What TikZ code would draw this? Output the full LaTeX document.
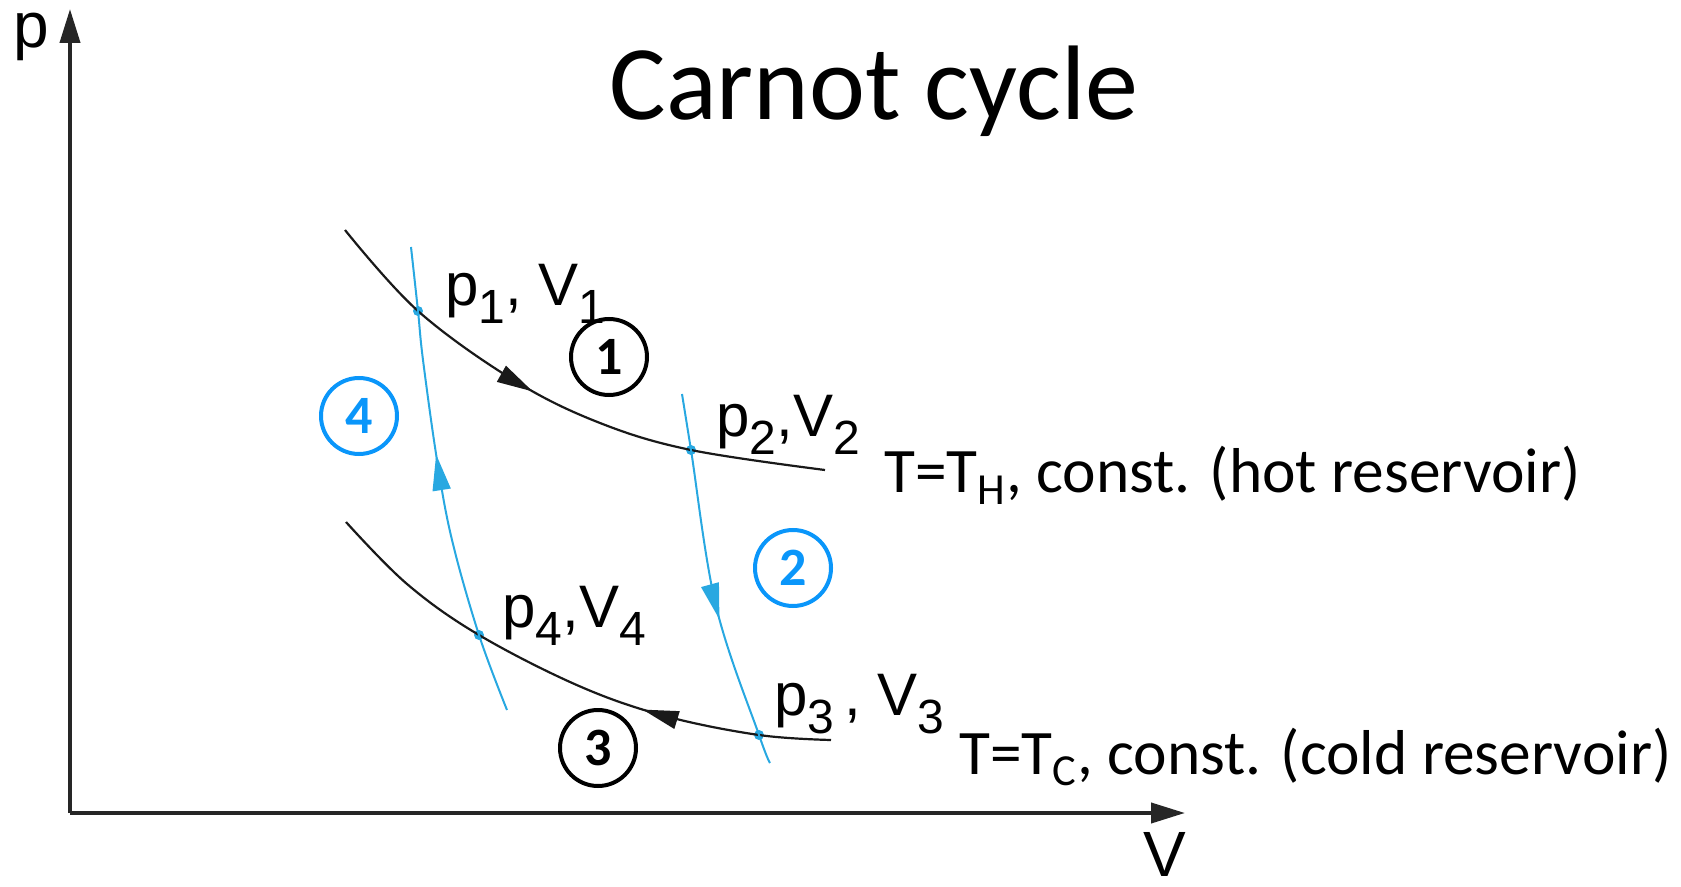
\documentclass[tikz,border=0pt]{standalone}
\usepackage{fontspec}
\setmainfont{Carlito}
\newfontfamily\helvfont{Liberation Sans}
\usepackage{xcolor}
\usepackage{graphicx}
\usetikzlibrary{positioning,arrows.meta,decorations.markings}

\definecolor{adiablue}{RGB}{40,168,225}
\definecolor{stepblue}{RGB}{10,150,250}
\newcommand{\lsub}[1]{\raisebox{-0.3em}{\scalebox{0.8}{#1}}}

\begin{document}
\begin{tikzpicture}[
    x=0.5pt, y=-0.5pt,
    axis/.style={draw=black!85, line width=2pt, -{Triangle[length=17pt,width=10pt]}},
    iso/.style={draw=black!90, line width=1.1pt},
    adia/.style={draw=adiablue, line width=1pt},
    flow/.style={postaction=decorate, decoration={markings,
      mark=at position #1 with {\arrow{Triangle[length=18pt,width=9pt]}}}},
    backflow/.style={postaction=decorate, decoration={markings,
      mark=at position #1 with {\arrowreversed{Triangle[length=18pt,width=9pt]}}}},
    dot/.style={circle, fill=adiablue, inner sep=0pt, minimum size=5pt},
    stepnum/.style={circle, draw, line width=2pt, minimum size=38pt, inner sep=0pt,
      font=\fontsize{27}{27}\selectfont\bfseries},
    pvlabel/.style={anchor=base west, inner sep=0pt, font=\helvfont\fontsize{30}{30}\selectfont},
    axislabel/.style={anchor=base west, inner sep=0pt, font=\helvfont\fontsize{32}{32}\selectfont},
    reservoir/.style={anchor=base west, inner sep=0pt, font=\fontsize{31.7}{32}\selectfont}
  ]
    \useasboundingbox (0,0) rectangle (1681,887);

    \coordinate (o) at (70,813);
    \coordinate (ytip) at (70,9);
    \coordinate (xtip) at (1185,813);
    \draw[axis] (o) -- (ytip);
    \draw[axis] (o) -- (xtip);
    \node[axislabel] (plabel) at (13,48) {p};
    \node[axislabel] (vlabel) at (1143,876) {V};

    \node[anchor=base, inner sep=0pt, font=\fontsize{53}{53}\selectfont] (title) at (874,120) {Carnot cycle};

    \node[dot] (s1) at (418,311) {};
    \node[dot] (s2) at (691,450) {};
    \node[dot] (s3) at (759,735) {};
    \node[dot] (s4) at (479,635) {};

    \draw[iso, flow=0.45] plot[smooth, tension=0.6] coordinates
      {(345,230) (s1) (515,381) (600,423) (s2) (825,470)};
    \draw[iso, backflow=0.65] plot[smooth, tension=0.6] coordinates
      {(346,522) (407,584) (s4) (579,686) (665,716) (s3) (831,740)};
    \draw[adia, flow=0.56] plot[smooth, tension=0.6] coordinates
      {(507,710) (s4) (452,540) (437,460) (423,360) (s1) (411,247)};
    \draw[adia, flow=0.6] plot[smooth, tension=0.6] coordinates
      {(682,394) (s2) (716,606) (s3) (770,763)};

    \node[pvlabel] (pv1) at (445,306) {p\lsub{1}, V\lsub{1}};
    \node[pvlabel] (pv2) at (716,437) {p\lsub{2},V\lsub{2}};
    \node[pvlabel] (pv3) at (774,715) {p\lsub{3}\,, V\lsub{3}};
    \node[pvlabel] (pv4) at (502,627) {p\lsub{4},V\lsub{4}};

    \node[stepnum] (n1) at (609,357) {1};
    \node[stepnum, draw=stepblue, text=stepblue] (n2) at (793,568) {2};
    \node[stepnum] (n3) at (598,748) {3};
    \node[stepnum, draw=stepblue, text=stepblue] (n4) at (359,416) {4};

    \node[reservoir] (hot) at (884,493) {T=T\textsubscript{H}, const. (hot reservoir)};
    \node[reservoir] (cold) at (959,774) {T=T\textsubscript{C}, const. (cold reservoir)};
  \end{tikzpicture}
\end{document}
